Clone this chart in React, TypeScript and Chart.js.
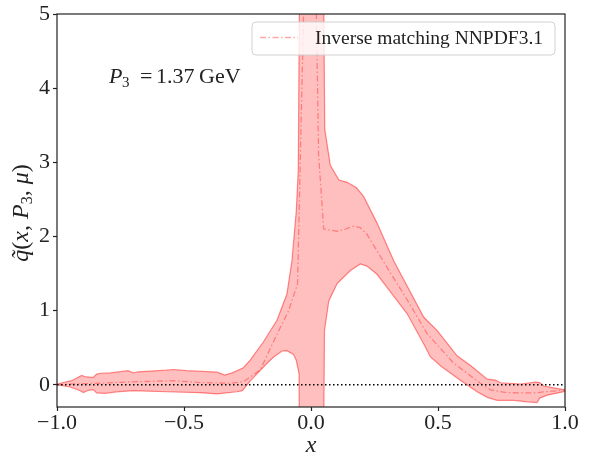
import React, { useEffect, useRef } from 'react';
import { Chart, registerables } from 'chart.js';

Chart.register(...registerables);

// ---- data ----
const upperBand: [number, number][] = [
  [-1.0, 0.01], [-0.975, 0.03], [-0.942, 0.055], [-0.903, 0.125], [-0.885, 0.105],
  [-0.857, 0.1], [-0.845, 0.14], [-0.83, 0.155], [-0.79, 0.16], [-0.72, 0.19],
  [-0.7, 0.16], [-0.68, 0.175], [-0.57, 0.197], [-0.542, 0.206], [-0.49, 0.19],
  [-0.37, 0.17], [-0.34, 0.13], [-0.31, 0.16], [-0.266, 0.23], [-0.24, 0.33],
  [-0.187, 0.58], [-0.134, 0.87], [-0.095, 1.22], [-0.075, 1.67], [-0.058, 2.34],
  [-0.05, 2.9], [0.0, 29], [0.054, 3.45], [0.076, 2.96], [0.11, 2.76],
  [0.142, 2.73], [0.178, 2.66], [0.207, 2.54], [0.26, 2.18], [0.326, 1.67],
  [0.444, 0.91], [0.497, 0.73], [0.575, 0.39], [0.628, 0.26], [0.694, 0.075],
  [0.726, 0.063], [0.746, 0.027], [0.825, 0.01], [0.884, 0.035], [0.9, 0.03],
  [0.917, -0.017], [0.96, -0.045], [1.0, -0.07],
];
const lowerBand: [number, number][] = [
  [-1.0, 0.0], [-0.948, -0.03], [-0.909, -0.08], [-0.896, -0.105], [-0.877, -0.075],
  [-0.857, -0.065], [-0.844, -0.11], [-0.811, -0.115], [-0.765, -0.095], [-0.7, -0.08],
  [-0.568, -0.094], [-0.436, -0.107], [-0.37, -0.124], [-0.292, -0.094], [-0.27, -0.08],
  [-0.24, 0.05], [-0.173, 0.29], [-0.147, 0.375], [-0.114, 0.455], [-0.095, 0.46],
  [-0.069, 0.41], [-0.058, 0.33], [-0.047, 0.15], [0.0, -25], [0.053, 0.73],
  [0.07, 1.13], [0.102, 1.36], [0.155, 1.54], [0.194, 1.63], [0.22, 1.6],
  [0.26, 1.49], [0.3, 1.31], [0.378, 0.96], [0.444, 0.55], [0.47, 0.375],
  [0.516, 0.24], [0.588, 0.06], [0.654, -0.094], [0.694, -0.17], [0.733, -0.21],
  [0.8, -0.21], [0.851, -0.23], [0.89, -0.24], [0.9, -0.18], [0.93, -0.14],
  [1.0, -0.09],
];
const centralLine: [number, number][] = [
  [-1.0, 0.0], [-0.95, 0.01], [-0.831, 0.02], [-0.7, 0.04], [-0.542, 0.054],
  [-0.436, 0.03], [-0.318, 0.02], [-0.266, 0.04], [-0.2, 0.2], [-0.134, 0.68],
  [-0.088, 1.0], [-0.053, 1.36], [0.0, 9.5], [0.03, 3.1], [0.05, 2.1],
  [0.102, 2.07], [0.129, 2.09], [0.168, 2.14], [0.194, 2.12], [0.22, 2.03],
  [0.3, 1.58], [0.378, 1.15], [0.457, 0.69], [0.562, 0.29], [0.667, 0.02],
  [0.707, -0.07], [0.773, -0.107], [0.877, -0.11], [0.93, -0.093], [1.0, -0.07],
];
const zeroLine: [number, number][] = [[-1, 0], [1, 0]];

const xTicks = [-1, -0.5, 0, 0.5, 1];
const yTicks = [0, 1, 2, 3, 4, 5];
const xRange = [-1, 1];
const yRange = [-0.3, 5];

const legendLabel = 'Inverse matching NNPDF3.1';

const EDGE = 'rgba(255,0,0,0.45)';
const FILL = 'rgba(255,0,0,0.25)';
const CENTRAL = 'rgba(255,0,0,0.35)';
const CENTRAL_DASH = [6, 2.5, 1.5, 2.5];
const SERIF = '"Liberation Serif", "DejaVu Serif", serif';

const toPts = (arr: [number, number][]) => arr.map(([x, y]) => ({ x, y }));

const fmtX = (v: number) => {
  if (Math.abs(v) < 1e-9) return '0.0';
  return (v < 0 ? '\u2212' : '') + Math.abs(v).toFixed(1);
};

const textPlugin = {
  id: 'textPlugin',
  afterDraw(chart: any) {
    const ctx: CanvasRenderingContext2D = chart.ctx;
    const a = chart.chartArea;
    ctx.save();
    // frame
    ctx.strokeStyle = '#222';
    ctx.lineWidth = 1.2;
    ctx.setLineDash([]);
    ctx.strokeRect(a.left, a.top, a.right - a.left, a.bottom - a.top);

    // legend
    const lx = 252, ly = 22, lw = 303, lh = 33, r = 4;
    ctx.beginPath();
    ctx.moveTo(lx + r, ly);
    ctx.lineTo(lx + lw - r, ly);
    ctx.quadraticCurveTo(lx + lw, ly, lx + lw, ly + r);
    ctx.lineTo(lx + lw, ly + lh - r);
    ctx.quadraticCurveTo(lx + lw, ly + lh, lx + lw - r, ly + lh);
    ctx.lineTo(lx + r, ly + lh);
    ctx.quadraticCurveTo(lx, ly + lh, lx, ly + lh - r);
    ctx.lineTo(lx, ly + r);
    ctx.quadraticCurveTo(lx, ly, lx + r, ly);
    ctx.closePath();
    ctx.fillStyle = 'rgba(255,255,255,0.8)';
    ctx.fill();
    ctx.strokeStyle = 'rgba(204,204,204,0.9)';
    ctx.lineWidth = 1;
    ctx.stroke();
    ctx.beginPath();
    ctx.strokeStyle = CENTRAL;
    ctx.lineWidth = 1.3;
    ctx.setLineDash(CENTRAL_DASH);
    ctx.moveTo(260, 37.5);
    ctx.lineTo(298, 37.5);
    ctx.stroke();
    ctx.setLineDash([]);
    ctx.fillStyle = '#222';
    ctx.font = `19.5px ${SERIF}`;
    ctx.textBaseline = 'alphabetic';
    ctx.textAlign = 'left';
    ctx.fillText(legendLabel, 315, 43.5);

    // annotation P3 = 1.37 GeV
    ctx.font = `italic 22px ${SERIF}`;
    ctx.fillText('P', 109, 82.7);
    ctx.font = `15px ${SERIF}`;
    ctx.fillText('3', 122, 87);
    ctx.font = `22px ${SERIF}`;
    ctx.fillText('=', 140, 82.7);
    ctx.fillText('1.37', 156, 82.7);
    ctx.fillText('GeV', 199, 82.7);

    // x-axis title
    ctx.font = `italic 24px ${SERIF}`;
    ctx.textAlign = 'center';
    ctx.fillText('x', 311, 452);

    // y-axis title (rotated)
    type Run = { t: string; f: string; dy?: number };
    const runs: Run[] = [
      { t: 'q\u0303', f: `italic 24px ${SERIF}` },
      { t: '(', f: `24px ${SERIF}` },
      { t: 'x', f: `italic 24px ${SERIF}` },
      { t: ', ', f: `24px ${SERIF}` },
      { t: 'P', f: `italic 24px ${SERIF}` },
      { t: '3', f: `16px ${SERIF}`, dy: 4 },
      { t: ', ', f: `24px ${SERIF}` },
      { t: '\u03bc', f: `italic 24px ${SERIF}` },
      { t: ')', f: `24px ${SERIF}` },
    ];
    let total = 0;
    for (const rr of runs) { ctx.font = rr.f; total += ctx.measureText(rr.t).width; }
    ctx.translate(28, 213);
    ctx.rotate(-Math.PI / 2);
    ctx.textAlign = 'left';
    let cx = -total / 2;
    for (const rr of runs) {
      ctx.font = rr.f;
      ctx.fillText(rr.t, cx, rr.dy || 0);
      cx += ctx.measureText(rr.t).width;
    }
    ctx.restore();
  },
};

export default function App() {
  const ref = useRef<HTMLCanvasElement | null>(null);
  useEffect(() => {
    if (!ref.current) return;
    const chart = new Chart(ref.current, {
      type: 'line',
      data: {
        datasets: [
          {
            label: 'upper',
            data: toPts(upperBand),
            borderColor: EDGE,
            borderWidth: 1.2,
            backgroundColor: FILL,
            fill: { target: 1 },
            pointRadius: 0,
            tension: 0,
            order: 3,
          },
          {
            label: 'lower',
            data: toPts(lowerBand),
            borderColor: EDGE,
            borderWidth: 1.2,
            fill: false,
            pointRadius: 0,
            tension: 0,
            order: 2,
          },
          {
            label: legendLabel,
            data: toPts(centralLine),
            borderColor: CENTRAL,
            borderWidth: 1.3,
            borderDash: CENTRAL_DASH,
            fill: false,
            pointRadius: 0,
            tension: 0,
            order: 1,
          },
          {
            label: 'zero',
            data: toPts(zeroLine),
            borderColor: '#000',
            borderWidth: 1.5,
            borderDash: [1.5, 2.5],
            fill: false,
            pointRadius: 0,
            order: 0,
          },
        ],
      },
      options: {
        animation: false,
        responsive: false,
        devicePixelRatio: 1,
        layout: { padding: { top: 11, right: 26, left: 0, bottom: 0 } },
        plugins: { legend: { display: false }, tooltip: { enabled: false } },
        scales: {
          x: {
            type: 'linear',
            min: xRange[0],
            max: xRange[1],
            afterBuildTicks: (s: any) => { s.ticks = xTicks.map((v) => ({ value: v })); },
            afterFit: (s: any) => { s.height = 52; },
            ticks: {
              callback: (v: any) => fmtX(Number(v)),
              font: { family: SERIF, size: 22, lineHeight: 1 },
              color: '#222',
              padding: 1,
              maxRotation: 0,
              autoSkip: false,
            },
            grid: { display: true, drawOnChartArea: false, drawTicks: true, tickLength: 4, tickColor: '#222', tickWidth: 1.2 },
            border: { display: false },
          },
          y: {
            type: 'linear',
            min: yRange[0],
            max: yRange[1],
            afterBuildTicks: (s: any) => { s.ticks = yTicks.map((v) => ({ value: v })); },
            afterFit: (s: any) => { s.width = 57; },
            ticks: {
              callback: (v: any) => String(Number(v)),
              font: { family: SERIF, size: 22, lineHeight: 1 },
              color: '#222',
              padding: 3,
              autoSkip: false,
            },
            grid: { display: true, drawOnChartArea: false, drawTicks: true, tickLength: 4, tickColor: '#222', tickWidth: 1.2 },
            border: { display: false },
          },
        },
      },
      plugins: [textPlugin],
    });
    return () => chart.destroy();
  }, []);
  return (
    <div style={{ position: 'fixed', left: 0, top: 0, width: 591, height: 459, background: '#fff' }}>
      <canvas ref={ref} width={591} height={459} style={{ width: 591, height: 459, display: 'block' }} />
    </div>
  );
}
